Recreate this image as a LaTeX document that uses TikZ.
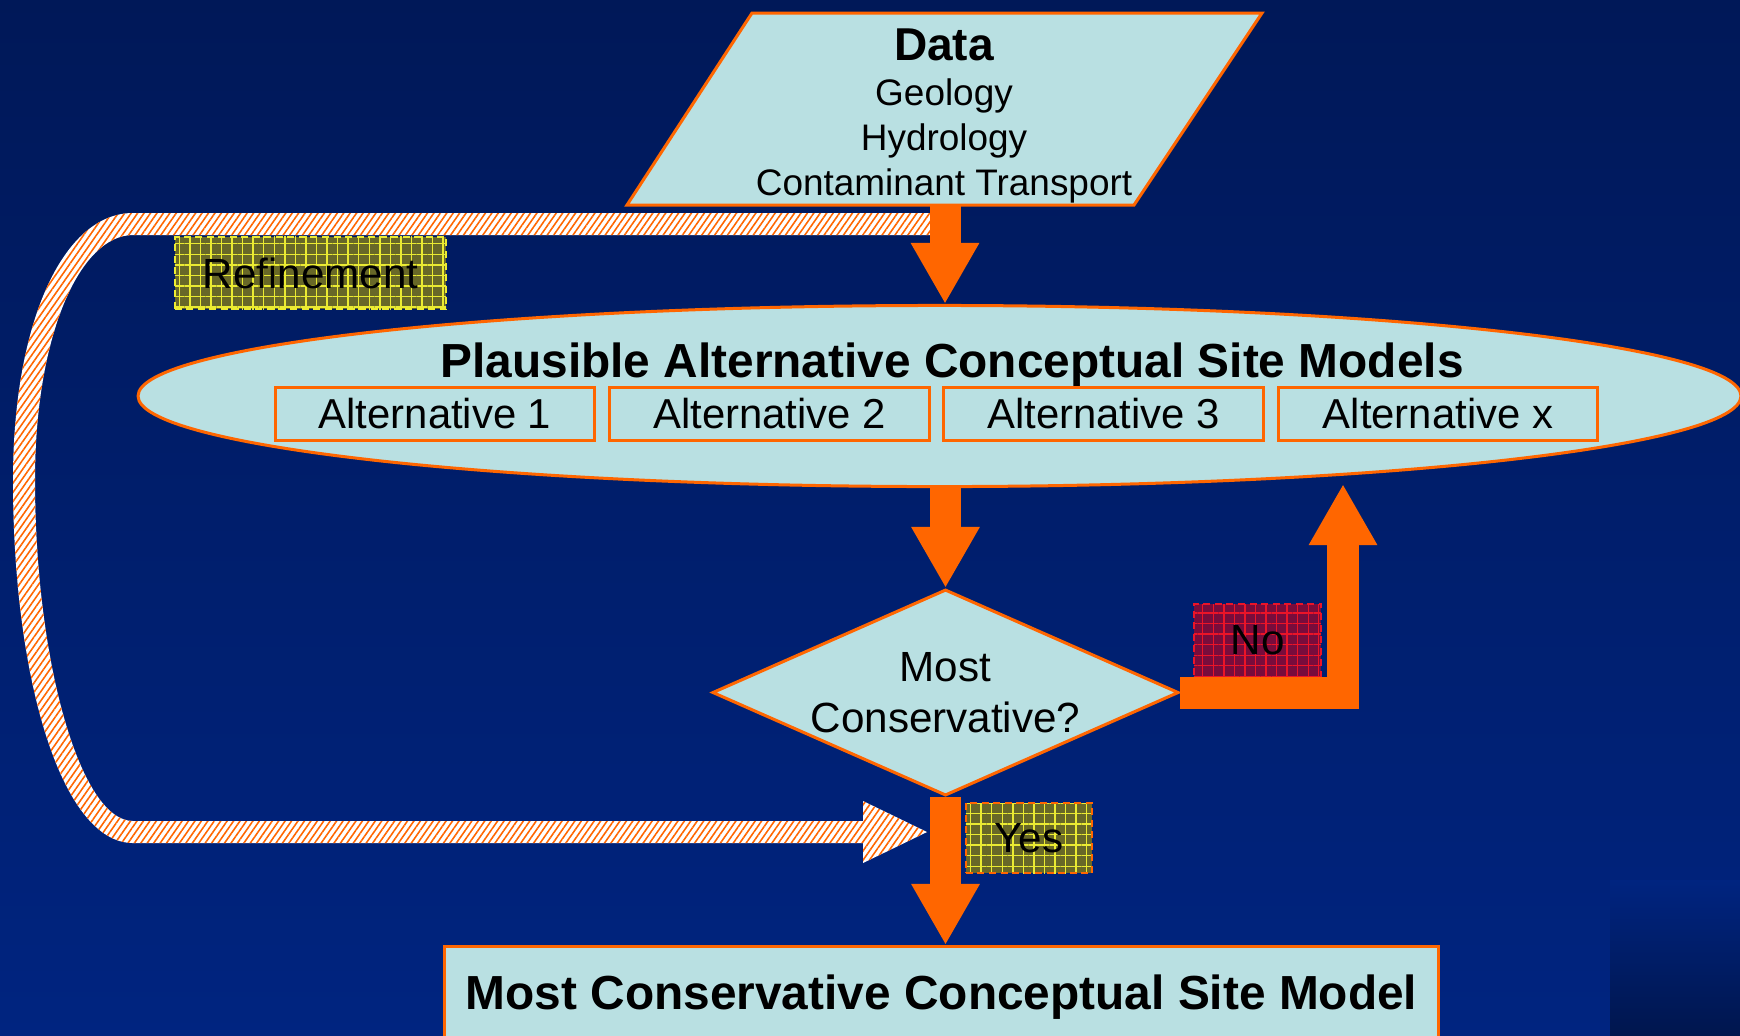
\documentclass[tikz,border=0pt]{standalone}
\usepackage{fontspec}
\setmainfont{Liberation Sans}
\usetikzlibrary{shapes.geometric,arrows.meta,patterns,patterns.meta}

\definecolor{slidetop}{RGB}{0,24,88}
\definecolor{slidebot}{RGB}{0,36,128}
\definecolor{slidedark}{RGB}{0,22,78}
\definecolor{flow}{RGB}{255,102,0}
\definecolor{paleblue}{RGB}{185,224,226}
\definecolor{olivetag}{RGB}{104,104,40}
\definecolor{gridyellow}{RGB}{235,235,50}
\definecolor{maroontag}{RGB}{120,12,60}
\definecolor{gridred}{RGB}{235,20,40}

\begin{document}
\begin{tikzpicture}[x=0.01cm,y=-0.01cm,
    shapebox/.style={draw=flow, line width=0.03cm, fill=paleblue},
    altbox/.style={shapebox, minimum width=3.19cm, minimum height=0.53cm, inner sep=0pt, font=\fontsize{11.9}{14}\selectfont},
    blockarrow/.style={draw=flow, line width=0.31cm, -{Triangle[width=0.64cm,length=0.61cm]}},
    tagbox/.style={line width=0.02cm, dash pattern=on 0.07cm off 0.045cm, inner sep=0pt,
        font=\fontsize{12}{14}\selectfont},
    taggrid/.style={preaction={fill=#1}}]
    \useasboundingbox (0,0) rectangle (1740,1035);
    \shade[top color=slidetop, bottom color=slidebot] (0,0) rectangle (1740,1035);
    \shade[top color=slidebot, bottom color=slidedark] (1610,880) rectangle (1740,1035);

    % refinement loop
    \fill[white, postaction={pattern={Lines[angle=55,distance=1.5pt,line width=0.45pt]}, pattern color=flow}]
        (930,213) -- (133,213) .. controls (62,213) and (13,325) .. (13,480)
        .. controls (13,680) and (62,843) .. (133,843) -- (863,843) -- (863,863)
        -- (927,832) -- (863,801) -- (863,821) -- (133,821)
        .. controls (80,821) and (35,660) .. (35,480)
        .. controls (35,335) and (80,235) .. (133,235) -- (930,235) -- cycle;

    % data
    \path[shapebox] (752,13) -- (1262,13) -- (1134,205) -- (627,205) -- cycle;
    \node[align=center, font=\fontsize{10.5}{12.8}\selectfont] (data) at (944,116)
        {{\bfseries\fontsize{13.1}{14}\selectfont Data}\\Geology\\Hydrology\\Contaminant Transport};
    \coordinate (databot) at (945,205);

    % alternatives
    \node[ellipse, shapebox, minimum width=16.02cm, minimum height=1.81cm] (models) at (939.5,396) {};
    \node[font=\bfseries\fontsize{13.6}{16}\selectfont] (title) at (952,365) {Plausible Alternative Conceptual Site Models};
    \node[altbox] (alt1) at (435,414) {Alternative 1};
    \node[altbox] (alt2) at (769.5,414) {Alternative 2};
    \node[altbox] (alt3) at (1103.5,414) {Alternative 3};
    \node[altbox] (altx) at (1438,414) {Alternative x};

    % decision
    \node[diamond, shapebox, minimum width=4.66cm, minimum height=2.06cm] (check) at (945.5,692.5) {};
    \node[align=center, font=\fontsize{12}{14.5}\selectfont] (question) at (check) {Most\\Conservative?};
    \coordinate (noend) at (1343,484);

    % result
    \node[shapebox, anchor=north, minimum width=9.94cm, inner ysep=0.29cm, text height=0.34cm, text depth=0.8cm,
        font=\bfseries\fontsize{13.6}{16}\selectfont] (final) at (941.5,945) {Most Conservative Conceptual Site Model};

    % tags
    \node[tagbox, draw=gridyellow, preaction={fill=olivetag},
        preaction={solid, pattern={Hatch[distance=3pt,line width=0.4pt]}, pattern color=gridyellow},
        minimum width=2.71cm, minimum height=0.72cm] (refine) at (310.5,273) {Refinement};
    \node[tagbox, draw=flow, preaction={fill=olivetag},
        preaction={solid, pattern={Hatch[distance=3pt,line width=0.4pt]}, pattern color=gridyellow},
        minimum width=1.26cm, minimum height=0.70cm] (yes) at (1029,838) {Yes};
    \node[tagbox, draw=gridred, preaction={fill=maroontag},
        preaction={solid, pattern={Hatch[distance=3pt,line width=0.4pt]}, pattern color=gridred},
        minimum width=1.27cm, minimum height=0.73cm] (no) at (1257.5,640.5) {No};

    \draw[blockarrow] (databot) -- (databot |- models.north);
    \draw[blockarrow] (check.north |- models.south) -- (check.north);
    \draw[blockarrow, line width=0.32cm] (check.east) -| (noend);
    \draw[blockarrow] (check.south) -- (check.south |- final.north);
\end{tikzpicture}
\end{document}
